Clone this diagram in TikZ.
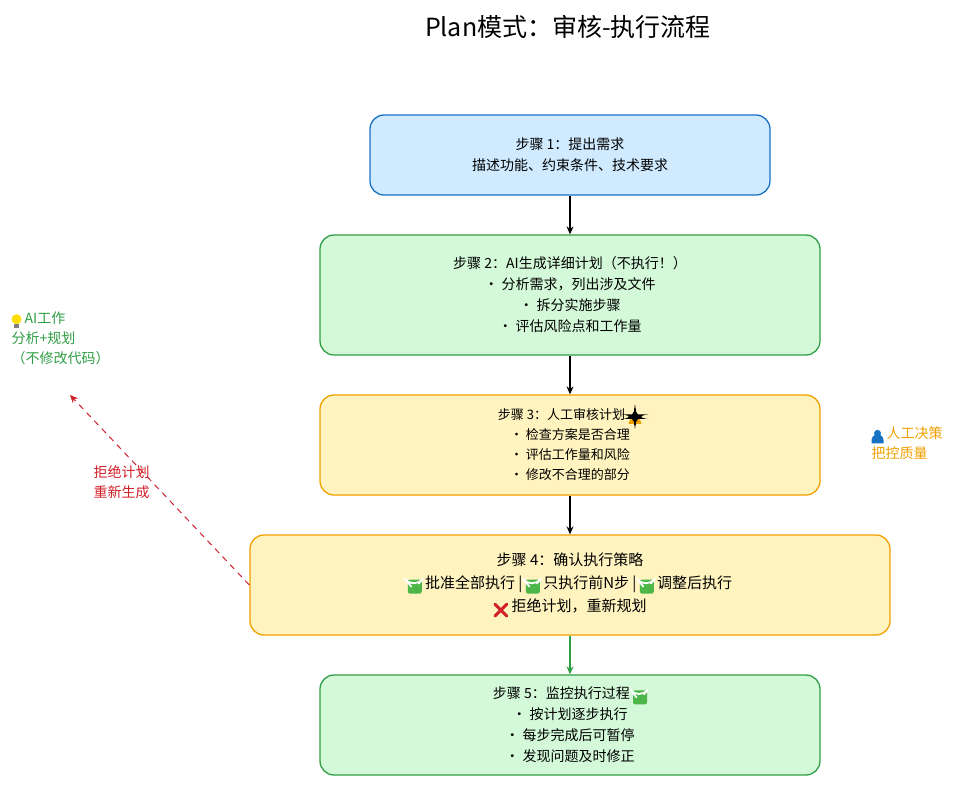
\documentclass[tikz,border=0pt]{standalone}
\usepackage{fontspec}
\setmainfont{Noto Sans CJK SC}
\newfontfamily\emo{DejaVu Sans}
\usetikzlibrary{arrows.meta}
\definecolor{bluef}{HTML}{D0EBFF}\definecolor{blues}{HTML}{1971C2}
\definecolor{greenf}{HTML}{D3F9D8}\definecolor{greens}{HTML}{2F9E44}
\definecolor{yelf}{HTML}{FFF3BF}\definecolor{yels}{HTML}{F0A000}
\definecolor{redc}{HTML}{D0202A}\definecolor{chk}{HTML}{4CB648}
\newcommand{\mychk}{\tikz[baseline=-2pt,x=1pt,y=1pt]{\fill[chk,rounded corners=2pt](-7,-7.5) rectangle (7,6.5);\draw[white,line width=1.8pt,line cap=round,line join=round](-3.5,-0.5)--(-1,-3.5)--(4,2.5);}}
\newcommand{\myx}{\tikz[baseline=-2pt,x=1pt,y=1pt]{\draw[redc,line width=3pt,line cap=round](-6,-7)--(6,5) (-6,5)--(6,-7);}}
\newcommand{\mywarn}{\tikz[baseline=-2pt,x=1pt,y=1pt]{\fill[yels,rounded corners=1pt](-7,-6)--(7,-6)--(0,7)--cycle;\fill[black](-0.8,-1)rectangle(0.8,3.5);\fill(0,-3.5)circle(0.9);}}
\newcommand{\mybulb}{\tikz[baseline=-2pt,x=1pt,y=1pt]{\fill[yellow!80!orange](0,2)circle(5);\fill[gray](-2.5,-7)rectangle(2.5,-3);}}
\newcommand{\myperson}{\tikz[baseline=-2pt,x=1pt,y=1pt]{\fill[blues](0,3)circle(3.5);\fill[blues](-6,-7)--(-6,-4)arc(180:0:6)--(6,-7)--cycle;}}
\begin{document}
\begin{tikzpicture}[x=1pt,y=-1pt,
 box/.style={draw,line width=1.3pt,rounded corners=14pt,align=center,font=\fontsize{14}{21}\selectfont,inner sep=0pt},
 arr/.style={-{Stealth[length=8pt,width=7pt]},line width=1.2pt}]
\useasboundingbox (0,0) rectangle (970,785);
\node[font=\fontsize{25}{28}\selectfont] (title) at (568,27) {Plan模式：审核-执行流程};
\node[box,fill=bluef,draw=blues,minimum width=400pt,minimum height=80pt] (b1) at (570,155) {步骤 1：提出需求\\描述功能、约束条件、技术要求};
\node[box,fill=greenf,draw=greens,minimum width=500pt,minimum height=120pt] (b2) at (570,295) {步骤 2：\textit{AI}生成详细计划（不执行！）\\· 分析需求，列出涉及文件\\· 拆分实施步骤\\· 评估风险点和工作量};
\node[box,fill=yelf,draw=yels,minimum width=500pt,minimum height=100pt,font=\fontsize{13}{20}\selectfont] (b3) at (570,445) {步骤 3：人工审核计划 \mywarn\\· 检查方案是否合理\\· 评估工作量和风险\\· 修改不合理的部分};
\node[box,fill=yelf,draw=yels,minimum width=640pt,minimum height=100pt,font=\fontsize{15}{23}\selectfont] (b4) at (570,585) {步骤 4：确认执行策略\\\mychk{} 批准全部执行 | \mychk{} 只执行前N步 | \mychk{} 调整后执行\\\myx{} 拒绝计划，重新规划};
\node[box,fill=greenf,draw=greens,minimum width=500pt,minimum height=100pt] (b5) at (570,725) {步骤 5：监控执行过程 \mychk\\· 按计划逐步执行\\· 每步完成后可暂停\\· 发现问题及时修正};
\draw[arr] (b1) -- (b2);
\draw[arr] (b2) -- (b3);
\draw[arr] (b3) -- (b4);
\draw[arr,greens,line width=2pt] (b4) -- (b5);
\coordinate (c) at (70,395);
\draw[arr,redc,line width=1pt,dash pattern=on 6pt off 5pt] (b4.west) -- (c);
\node[redc,align=left,anchor=west,font=\fontsize{14}{20}\selectfont] (rl) at (90,482) {拒绝计划\\重新生成};
\node[greens,align=left,anchor=west,font=\fontsize{14}{20}\selectfont] (gl) at (8,338) {\mybulb{} \textit{AI}工作\\分析+规划\\（不修改代码）};
\node[yels,align=left,anchor=west,font=\fontsize{14}{20}\selectfont] (ol) at (868,443) {\myperson{} 人工决策\\把控质量};
\end{tikzpicture}
\end{document}
